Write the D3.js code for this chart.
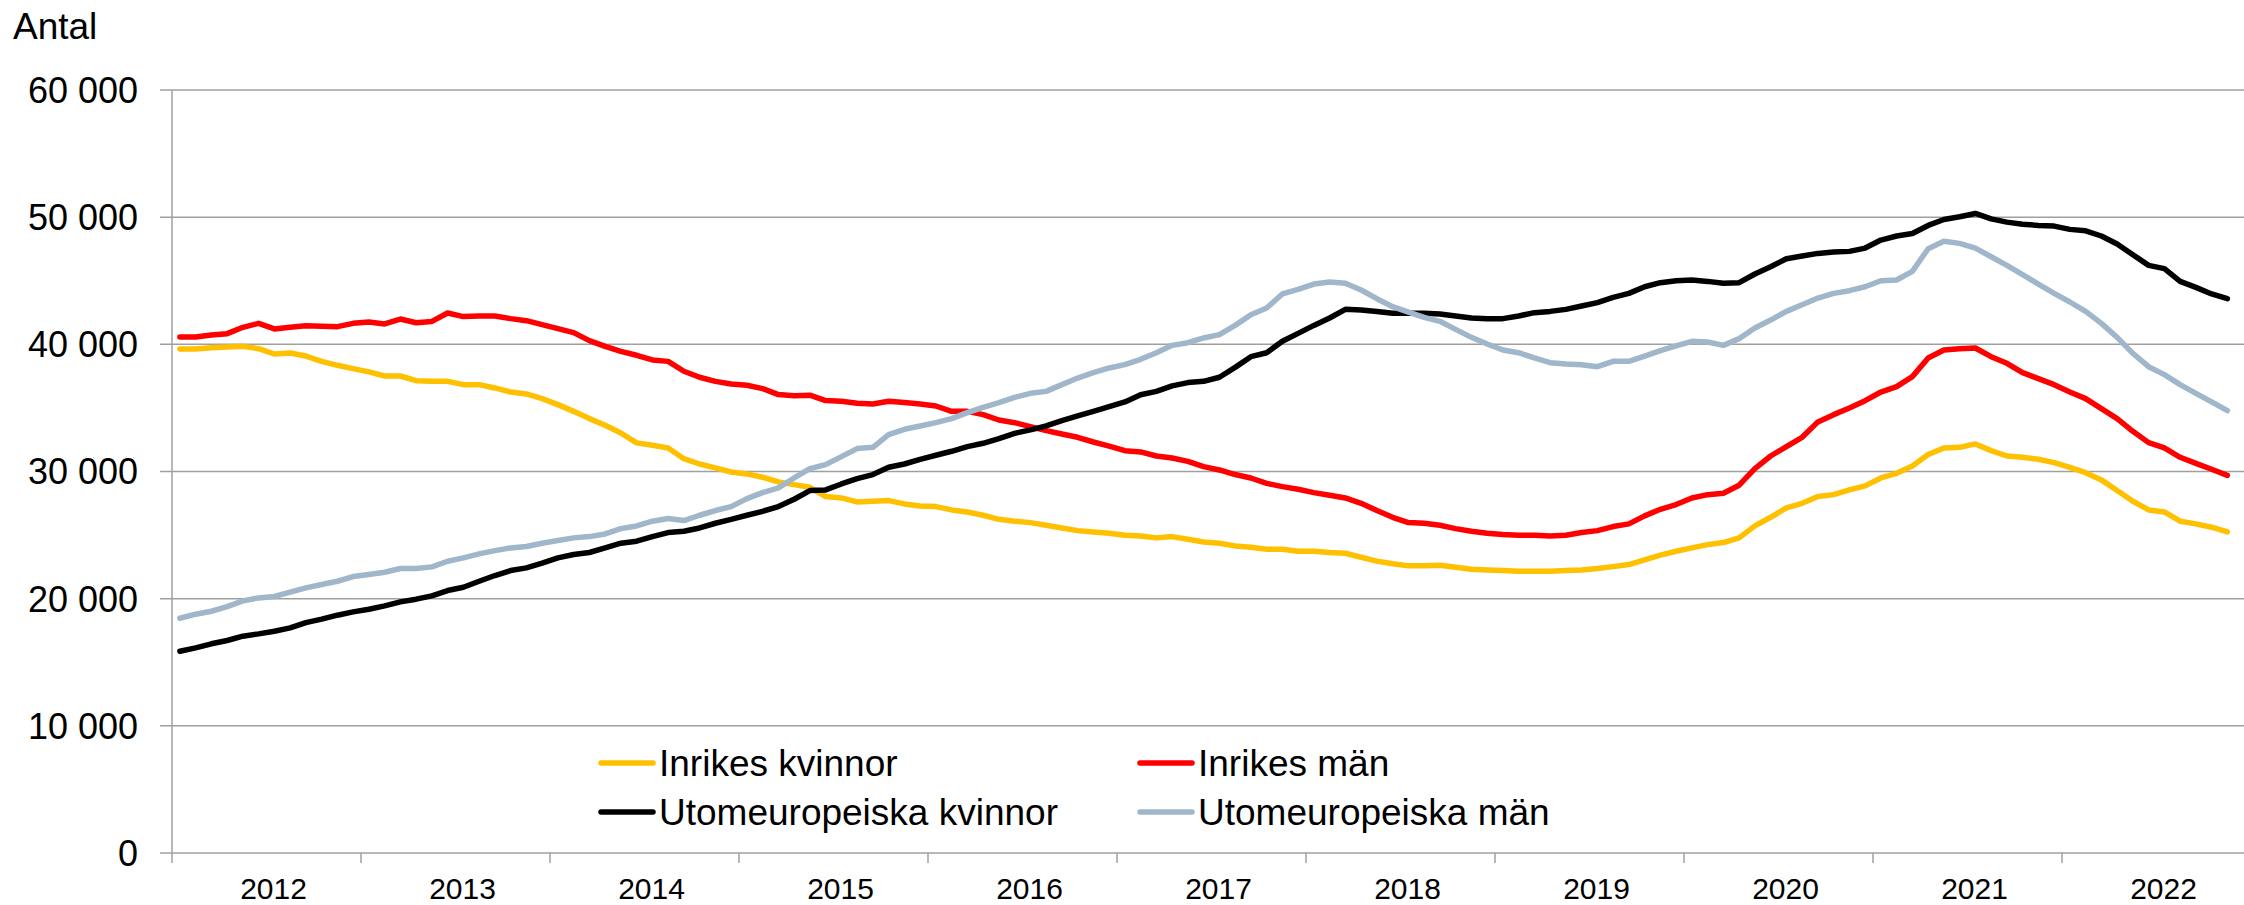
<!DOCTYPE html>
<html>
<head>
<meta charset="utf-8">
<script src="https://cdn.jsdelivr.net/npm/d3@7"></script>
<style>
  body { margin: 0; background: #fff; }
  svg text { font-family: "Liberation Sans", Arial, sans-serif; fill: #000; }
</style>
</head>
<body>
<div id="chart"></div>
<script>
// monthly values, Jan 2012 - Nov 2022
let years = [2012, 2013, 2014, 2015, 2016, 2017, 2018, 2019, 2020, 2021, 2022];
let yTicks = [0, 10000, 20000, 30000, 40000, 50000, 60000];

let inrikesKvinnor = [
  39630, 39630, 39740, 39790, 39840, 39660, 39240, 39320, 39080, 38660, 38350, 38090, 37830, 37510, 37510, 37140, 37090, 37090, 36830, 36830, 36570, 36250,
  36100, 35730, 35260, 34730, 34160, 33630, 33030, 32250, 32060, 31850, 31010, 30590, 30280, 29960, 29810, 29550, 29180, 28970, 28760, 28030, 27920, 27610,
  27660, 27710, 27450, 27290, 27240, 26980, 26820, 26560, 26240, 26090, 25980, 25770, 25560, 25350, 25250, 25140, 24990, 24930, 24780, 24880, 24670, 24460,
  24360, 24150, 24040, 23890, 23890, 23730, 23730, 23630, 23570, 23260, 22950, 22740, 22580, 22580, 22630, 22470, 22310, 22260, 22210, 22160, 22160, 22160,
  22210, 22260, 22370, 22520, 22680, 23050, 23420, 23730, 23990, 24250, 24410, 24780, 25720, 26400, 27140, 27500, 28030, 28180, 28550, 28870, 29490, 29860,
  30440, 31330, 31850, 31900, 32170, 31640, 31220, 31120, 30960, 30700, 30330, 29910, 29340, 28500, 27660, 26980, 26820, 26090, 25880, 25620, 25250
];
let inrikesMan = [
  40580, 40580, 40730, 40840, 41340, 41650, 41210, 41340, 41470, 41420, 41390, 41650, 41760, 41600, 41990, 41700, 41800, 42460, 42180, 42230, 42230, 42020,
  41860, 41550, 41230, 40920, 40290, 39840, 39450, 39140, 38770, 38660, 37880, 37410, 37090, 36880, 36780, 36520, 36050, 35950, 36000, 35580, 35520, 35360,
  35310, 35520, 35420, 35310, 35150, 34730, 34730, 34470, 34050, 33840, 33530, 33210, 32950, 32690, 32320, 32000, 31640, 31540, 31220, 31060, 30800, 30380,
  30120, 29760, 29490, 29070, 28810, 28600, 28340, 28130, 27920, 27500, 26930, 26400, 25980, 25930, 25770, 25510, 25300, 25140, 25040, 24990, 24990, 24930,
  24990, 25200, 25350, 25670, 25880, 26510, 27030, 27400, 27920, 28180, 28290, 28920, 30230, 31220, 31960, 32690, 33900, 34470, 34990, 35570, 36250, 36670,
  37460, 38930, 39550, 39660, 39710, 39030, 38510, 37770, 37300, 36830, 36250, 35730, 34940, 34160, 33160, 32270, 31850, 31120, 30640, 30180, 29700
];
let utomKvinnor = [
  15870, 16130, 16450, 16710, 17050, 17230, 17440, 17700, 18120, 18390, 18700, 18960, 19170, 19430, 19750, 19960, 20220, 20640, 20900, 21370, 21820, 22210,
  22420, 22790, 23210, 23470, 23630, 23990, 24360, 24520, 24880, 25200, 25300, 25560, 25930, 26240, 26560, 26870, 27240, 27820, 28500, 28550, 29020, 29440,
  29760, 30330, 30590, 30960, 31280, 31590, 31960, 32220, 32590, 33000, 33270, 33580, 34000, 34370, 34730, 35100, 35470, 36040, 36300, 36730, 36990, 37090,
  37410, 38190, 39030, 39340, 40240, 40860, 41490, 42070, 42750, 42700, 42590, 42440, 42440, 42440, 42380, 42230, 42070, 42020, 42020, 42230, 42490, 42590,
  42750, 43010, 43280, 43690, 44010, 44530, 44850, 45000, 45060, 44950, 44800, 44850, 45530, 46100, 46730, 46940, 47150, 47260, 47310, 47570, 48200, 48520,
  48720, 49350, 49820, 50030, 50290, 49870, 49610, 49450, 49350, 49300, 49040, 48930, 48520, 47890, 47050, 46210, 45950, 44950, 44480, 43960, 43590
];
let utomMan = [
  18460, 18780, 19010, 19380, 19830, 20060, 20170, 20510, 20850, 21110, 21370, 21740, 21900, 22080, 22370, 22370, 22500, 22940, 23210, 23520, 23780, 23990,
  24100, 24360, 24570, 24780, 24880, 25090, 25510, 25720, 26090, 26300, 26140, 26560, 26930, 27240, 27870, 28340, 28710, 29490, 30230, 30540, 31170, 31800,
  31900, 32900, 33320, 33580, 33840, 34160, 34630, 35050, 35410, 35830, 36150, 36300, 36830, 37350, 37770, 38140, 38400, 38820, 39340, 39920, 40130, 40500,
  40760, 41490, 42330, 42860, 43960, 44320, 44740, 44900, 44800, 44270, 43590, 42960, 42540, 42120, 41810, 41180, 40550, 40030, 39550, 39340, 38930, 38560,
  38450, 38400, 38240, 38660, 38660, 39080, 39500, 39870, 40240, 40180, 39920, 40450, 41280, 41910, 42590, 43120, 43640, 44010, 44220, 44530, 45000, 45060,
  45740, 47520, 48100, 47940, 47570, 46890, 46210, 45480, 44740, 44010, 43330, 42590, 41650, 40550, 39290, 38240, 37620, 36830, 36150, 35470, 34790
];

let seriesNames = ["Inrikes kvinnor", "Inrikes män", "Utomeuropeiska kvinnor", "Utomeuropeiska män"];
let seriesColors = ["#FFC000", "#FF0000", "#000000", "#A0B6CA"];
let seriesValues = [inrikesKvinnor, inrikesMan, utomKvinnor, utomMan];

let width = 2244;
let height = 905;
let plotLeft = 172, plotTop = 90, plotBottom = 853;
let monthW = 15.75;
let gridColor = "#a0a0a0";

let chart = d3.select("#chart")
  .append("svg")
  .attr("width", width).attr("height", height);

// one slot per month, whole years on the axis
let nMonths = years.length * 12;
let x = d3.scaleLinear().domain([0, nMonths]).range([plotLeft, plotLeft + nMonths * monthW]);
let y = d3.scaleLinear().domain([0, 60000]).range([plotBottom, plotTop]);

// horizontal gridlines + y tick marks
chart.append("g").selectAll("line")
  .data(yTicks)
  .enter().append("line")
  .attr("x1", plotLeft - 12).attr("x2", width)
  .attr("y1", d => y(d)).attr("y2", d => y(d))
  .attr("stroke", gridColor).attr("stroke-width", 1.5);

chart.append("g").selectAll("text")
  .data(yTicks)
  .enter().append("text")
  .attr("x", 138).attr("y", d => y(d))
  .attr("dy", "0.36em")
  .attr("text-anchor", "end")
  .style("font-size", "36px")
  .text(d => d3.format(",")(d).replace(/,/g, " "));

// y axis line
chart.append("line")
  .attr("x1", plotLeft).attr("x2", plotLeft)
  .attr("y1", plotTop).attr("y2", plotBottom)
  .attr("stroke", gridColor).attr("stroke-width", 1.5);

// year ticks below the axis
chart.append("g").selectAll("line")
  .data(years)
  .enter().append("line")
  .attr("x1", (d, i) => x(i * 12)).attr("x2", (d, i) => x(i * 12))
  .attr("y1", plotBottom).attr("y2", plotBottom + 10)
  .attr("stroke", gridColor).attr("stroke-width", 1.5);

chart.append("g").selectAll("text")
  .data(years)
  .enter().append("text")
  .attr("x", (d, i) => x(i * 12 + 6) + 7)
  .attr("y", 899)
  .attr("text-anchor", "middle")
  .style("font-size", "30px")
  .text(d => d);

chart.append("text")
  .attr("x", 13).attr("y", 39)
  .style("font-size", "37px")
  .text("Antal");

let line = d3.line()
  .x((d, i) => x(i + 0.5))
  .y(d => y(d));

chart.append("g").selectAll("path")
  .data(seriesValues)
  .enter().append("path")
  .attr("d", d => line(d))
  .attr("fill", "none")
  .attr("stroke", (d, i) => seriesColors[i])
  .attr("stroke-width", 5.5)
  .attr("stroke-linejoin", "round")
  .attr("stroke-linecap", "round");

// legend, two columns
let legend = chart.append("g").selectAll("g")
  .data(seriesNames)
  .enter().append("g")
  .attr("transform", (d, i) => "translate(" + (i % 2 === 0 ? 601 : 1140) + "," + (i < 2 ? 763 : 812) + ")");

legend.append("line")
  .attr("x1", 0).attr("x2", 52)
  .attr("stroke", (d, i) => seriesColors[i])
  .attr("stroke-width", 5.5)
  .attr("stroke-linecap", "round");

legend.append("text")
  .attr("x", 58).attr("dy", "0.36em")
  .style("font-size", "37px")
  .text(d => d);
</script>
</body>
</html>
